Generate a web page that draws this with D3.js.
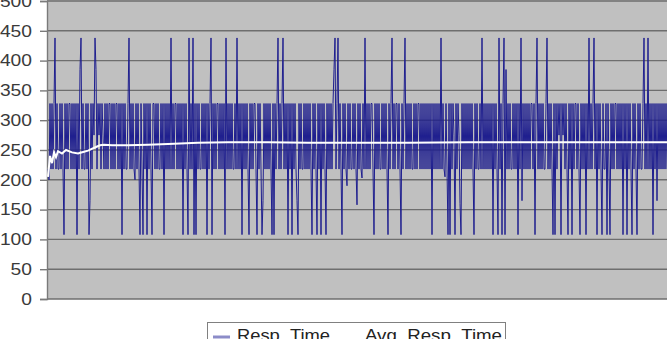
<!DOCTYPE html>
<html>
<head>
<meta charset="utf-8">
<script src="https://cdn.jsdelivr.net/npm/d3@7"></script>
<style>
  body { margin: 0; background: #fff; }
  svg { display: block; }
</style>
</head>
<body>
<div id="chart"></div>
<script>
const svgWidth = 667;
const svgHeight = 339;

// y axis ticks
const yTicks = [0, 50, 100, 150, 200, 250, 300, 350, 400, 450, 500];

// legend entries
const seriesNames = ["Resp_Time", "Avg_Resp_Time"];

// response time samples (one row = 20 samples)
const respTime = [
  218, 200, 328, 218, 328, 218, 328, 438, 218, 328, 218, 218, 328, 218, 328, 218, 108, 328, 218, 328,
  218, 328, 328, 218, 328, 218, 328, 218, 328, 108, 328, 218, 385, 438, 218, 328, 218, 218, 328, 218,
  328, 108, 165, 328, 218, 328, 275, 438, 385, 218, 328, 275, 328, 218, 328, 275, 218, 328, 218, 328,
  218, 328, 328, 218, 328, 218, 328, 218, 328, 328, 218, 328, 218, 328, 108, 328, 218, 328, 218, 218,
  328, 438, 218, 328, 218, 328, 218, 200, 328, 218, 328, 218, 108, 328, 218, 108, 328, 218, 328, 108,
  328, 218, 328, 218, 108, 328, 328, 218, 328, 218, 328, 218, 218, 328, 218, 328, 108, 328, 218, 328,
  218, 328, 218, 438, 218, 328, 218, 328, 328, 218, 328, 218, 328, 218, 328, 108, 328, 218, 328, 218,
  108, 438, 218, 328, 218, 438, 108, 328, 108, 328, 218, 328, 218, 218, 328, 218, 328, 218, 328, 108,
  328, 218, 328, 438, 108, 328, 218, 328, 218, 328, 328, 218, 328, 218, 328, 218, 328, 108, 438, 218,
  328, 218, 328, 218, 328, 218, 218, 328, 218, 438, 218, 328, 218, 328, 108, 328, 218, 328, 218, 328,
  218, 108, 328, 218, 328, 218, 328, 328, 218, 108, 328, 218, 328, 218, 108, 165, 328, 218, 328, 218,
  328, 218, 328, 218, 108, 328, 108, 328, 218, 328, 438, 218, 328, 218, 328, 438, 218, 328, 218, 328,
  108, 328, 218, 328, 108, 328, 218, 328, 218, 165, 108, 328, 218, 328, 218, 218, 328, 218, 328, 218,
  328, 218, 328, 218, 108, 328, 218, 328, 218, 108, 328, 218, 328, 108, 328, 218, 328, 218, 108, 328,
  218, 328, 218, 328, 218, 328, 385, 438, 218, 328, 438, 218, 328, 218, 108, 328, 218, 328, 218, 190,
  328, 218, 328, 218, 218, 328, 218, 328, 218, 158, 328, 218, 328, 218, 203, 328, 218, 438, 218, 328,
  218, 328, 218, 328, 328, 218, 108, 328, 218, 328, 218, 328, 218, 218, 328, 218, 328, 218, 328, 218,
  108, 328, 218, 328, 438, 218, 328, 218, 328, 328, 218, 328, 218, 108, 328, 218, 328, 438, 218, 328,
  218, 328, 218, 328, 218, 218, 328, 218, 328, 218, 328, 328, 218, 328, 218, 328, 218, 328, 218, 328,
  218, 328, 218, 328, 108, 328, 218, 328, 218, 328, 218, 328, 218, 438, 218, 328, 218, 205, 328, 218,
  108, 328, 108, 328, 218, 328, 275, 108, 328, 218, 328, 275, 160, 108, 328, 218, 328, 218, 328, 218,
  328, 218, 328, 218, 328, 218, 108, 328, 218, 328, 218, 218, 328, 218, 438, 218, 328, 218, 328, 218,
  328, 218, 328, 218, 328, 108, 328, 218, 328, 218, 108, 438, 218, 328, 108, 328, 438, 108, 385, 218,
  328, 218, 328, 218, 218, 328, 218, 328, 218, 328, 108, 328, 218, 438, 165, 328, 218, 328, 218, 328,
  218, 328, 218, 328, 328, 218, 328, 108, 328, 438, 218, 328, 218, 328, 218, 328, 218, 218, 328, 438,
  218, 328, 218, 328, 218, 108, 328, 108, 328, 218, 328, 275, 328, 108, 328, 275, 328, 218, 328, 218,
  108, 328, 218, 328, 108, 328, 218, 328, 328, 218, 328, 218, 108, 328, 218, 328, 218, 328, 108, 328,
  218, 438, 218, 328, 218, 328, 438, 218, 328, 108, 328, 218, 328, 218, 108, 328, 218, 218, 328, 108,
  328, 218, 108, 328, 218, 328, 218, 328, 328, 218, 328, 218, 328, 218, 328, 108, 328, 218, 328, 108,
  328, 218, 328, 218, 108, 328, 218, 328, 218, 108, 328, 218, 328, 218, 218, 328, 438, 218, 328, 218,
  438, 218, 328, 218, 328, 108, 328, 218, 328, 165, 328, 218, 328, 218, 328, 218, 328, 218, 328, 218
];

// running average, sampled at these sample numbers
const avgAt  = [0, 2, 4, 6, 8, 10, 14, 18, 24, 30, 36, 40, 48, 52, 56, 64, 80, 100, 120, 150, 180, 220, 260, 300, 360, 420, 480, 540, 619];
const avgVal = [205, 240, 228, 246, 238, 248, 244, 250, 246, 244, 247, 249, 255, 258, 259, 258, 258, 259, 260, 262, 263, 263, 262, 262, 262, 263, 263, 263, 263];

const plot = { left: 47, top: 1, bottom: 299, right: svgWidth };

const svg = d3.select("#chart")
  .append("svg")
  .attr("width", svgWidth)
  .attr("height", svgHeight);

const x = d3.scaleLinear()
  .domain([0, respTime.length - 1])
  .range([plot.left + 1, plot.left + respTime.length]);

const y = d3.scaleLinear()
  .domain([0, 500])
  .range([plot.bottom, plot.top]);

// plot background
svg.append("rect")
  .attr("x", plot.left)
  .attr("y", 0)
  .attr("width", plot.right - plot.left)
  .attr("height", plot.bottom)
  .attr("fill", "#c0c0c0");

svg.append("clipPath").attr("id", "clip")
  .append("rect")
  .attr("x", plot.left)
  .attr("y", 0)
  .attr("width", plot.right - plot.left)
  .attr("height", plot.bottom);

// gridlines
svg.append("g")
  .selectAll("line")
  .data(yTicks)
  .enter()
  .append("line")
  .attr("x1", plot.left)
  .attr("x2", plot.right)
  .attr("y1", d => y(d))
  .attr("y2", d => y(d))
  .attr("stroke", "#6e6e6e")
  .attr("stroke-width", 1.4);

// y axis
const yAxis = svg.append("g")
  .attr("transform", `translate(${plot.left}, 0)`)
  .call(d3.axisLeft(y).tickValues(yTicks).tickSize(7).tickPadding(8));

yAxis.select(".domain").attr("stroke", "#7a7a7a").attr("stroke-width", 1.4);
yAxis.selectAll(".tick line").attr("stroke", "#7a7a7a").attr("stroke-width", 1.4);
yAxis.selectAll(".tick text")
  .attr("font-family", "Liberation Sans, Arial, sans-serif")
  .attr("font-size", 16.5)
  .attr("fill", "#3a3a3a")
  .attr("textLength", d => String(d).length * 10.7)
  .attr("lengthAdjust", "spacingAndGlyphs");

const lines = svg.append("g").attr("clip-path", "url(#clip)");

// response time line
lines.append("path")
  .datum(respTime)
  .attr("fill", "none")
  .attr("stroke", "#1f1f8f")
  .attr("stroke-width", 1)
  .attr("d", d3.line().x((d, i) => x(i)).y(d => y(d)));

// average line
lines.append("path")
  .datum(avgAt.map((a, i) => [a, avgVal[i]]))
  .attr("fill", "none")
  .attr("stroke", "#ffffff")
  .attr("stroke-width", 2)
  .attr("d", d3.line().x(d => x(d[0])).y(d => y(d[1])));

// legend
const legend = svg.append("g");
legend.append("rect")
  .attr("x", 207.5)
  .attr("y", 322.5)
  .attr("width", 298)
  .attr("height", 30)
  .attr("fill", "#fff")
  .attr("stroke", "#808080")
  .attr("stroke-width", 1);

const legendX = [213, 341];
const legendColors = ["#8c8cc8", "#ffffff"];

legend.selectAll(".swatch")
  .data(seriesNames)
  .enter()
  .append("line")
  .attr("class", "swatch")
  .attr("x1", (d, i) => legendX[i])
  .attr("x2", (d, i) => legendX[i] + 17)
  .attr("y1", 337)
  .attr("y2", 337)
  .attr("stroke", (d, i) => legendColors[i])
  .attr("stroke-width", 3);

legend.selectAll(".label")
  .data(seriesNames)
  .enter()
  .append("text")
  .attr("class", "label")
  .attr("x", (d, i) => legendX[i] + 24)
  .attr("y", 341)
  .attr("font-family", "Liberation Sans, Arial, sans-serif")
  .attr("font-size", 16)
  .attr("fill", "#222")
  .attr("textLength", (d, i) => [93, 137][i])
  .attr("lengthAdjust", "spacingAndGlyphs")
  .text(d => d);
</script>
</body>
</html>
